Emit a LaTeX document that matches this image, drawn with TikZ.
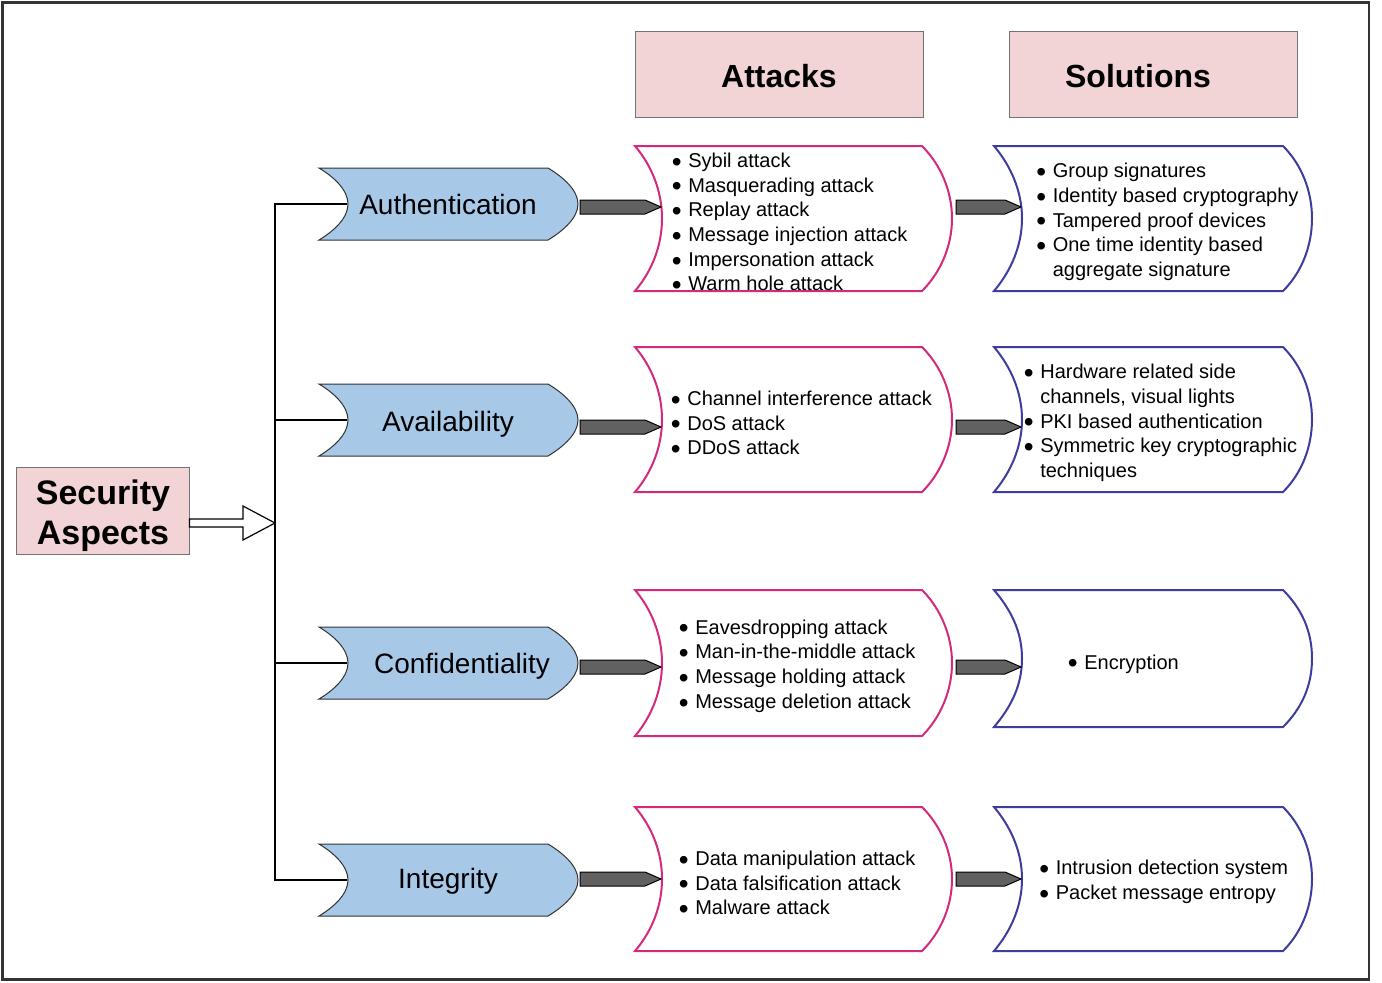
\documentclass[tikz,border=0pt]{standalone}
\usepackage{fontspec}
\setmainfont{Liberation Sans}
\usetikzlibrary{calc}
\definecolor{boxpink}{HTML}{F2D3D6}
\definecolor{tagblue}{HTML}{A8C8E8}
\definecolor{atkpink}{HTML}{D42A7C}
\definecolor{solblue}{HTML}{3D3D9E}
\definecolor{framegray}{HTML}{333333}
\newcommand{\bl}{\smash{\raisebox{-1.9pt}{\fontsize{14}{14}\selectfont\textbullet}}\hspace{3.3pt}}
\newcommand{\nb}{\hphantom{\bl}}

\begin{document}
\begin{tikzpicture}[x=0.5pt,y=-0.5pt,
  aspecttag/.style={fill=tagblue,draw=black!80,line width=0.5pt},
  atkbox/.style={draw=atkpink,line width=1pt,fill=white},
  solbox/.style={draw=solblue,line width=1pt,fill=white},
  headbox/.style={draw=black!55,fill=boxpink,line width=0.5pt,inner sep=0pt},
  headtext/.style={font=\fontsize{16}{19}\selectfont\bfseries},
  tagtext/.style={anchor=base,font=\fontsize{14}{16}\selectfont},
  itemlist/.style={anchor=west,inner sep=0pt,align=left,
    font=\fontsize{10}{12.35}\selectfont},
  branch/.style={draw=black,line width=1pt},
  pencilarrow/.style={draw=black,fill=black!62,line width=0.5pt,
    to path={($(\tikztostart)+(0,-7)$) -- ($(\tikztotarget)+(-16,-7)$) -- (\tikztotarget)
      -- ($(\tikztotarget)+(-16,7)$) -- ($(\tikztostart)+(0,7)$) -- cycle}},
  hollowarrow/.style={draw=black,fill=white,line width=0.6pt,
    to path={($(\tikztostart)+(0,-4)$) -- ($(\tikztotarget)+(-32,-4)$) -- ($(\tikztotarget)+(-32,-17)$)
      -- (\tikztotarget) -- ($(\tikztotarget)+(-32,17)$) -- ($(\tikztotarget)+(-32,4)$)
      -- ($(\tikztostart)+(0,4)$) -- cycle}}]

\useasboundingbox (0,0) rectangle (1382,982);
\draw[line width=1.2pt,draw=framegray] (2.5,2.5) rectangle (1369,979.5);

% headers
\node[headbox,minimum width=144pt,minimum height=43pt] (atkhead) at (779,74) {};
\node[headbox,minimum width=144pt,minimum height=43pt] (solhead) at (1153,74) {};
\node[headtext] (atktitle) at (779,76) {Attacks};
\node[headtext] (soltitle) at (1138,76) {Solutions};

% one row per security aspect
\foreach \nm/\ty/\ay/\ac/\ah/\sy/\sh in {auth/204/207/218.5/72.5/218.5/72.5,
    avail/420/427/419.5/72.5/419.5/72.5, conf/663/667/663/73/658.5/68.5,
    integ/880/879/879/72/879/72}{
  \filldraw[aspecttag] (319,\ty-36) -- (548,\ty-36) .. controls (563,\ty-27) and (578,\ty-14) .. (578,\ty)
    .. controls (578,\ty+14) and (563,\ty+27) .. (548,\ty+36) -- (319,\ty+36)
    .. controls (334,\ty+27) and (348,\ty+14) .. (348,\ty) .. controls (348,\ty-14) and (334,\ty-27) .. cycle;
  \draw[atkbox] (635,\ac-\ah) -- (922,\ac-\ah) .. controls (941,\ac-\ah+19) and (952,\ac-27) .. (952,\ac)
    .. controls (952,\ac+27) and (941,\ac+\ah-19) .. (922,\ac+\ah) -- (635,\ac+\ah)
    .. controls (652,\ac+\ah-20) and (662,\ac+27) .. (662,\ac) .. controls (662,\ac-27) and (652,\ac-\ah+20) .. cycle;
  \draw[solbox] (994,\sy-\sh) -- (1283,\sy-\sh) .. controls (1302,\sy-\sh+19) and (1312,\sy-27) .. (1312,\sy)
    .. controls (1312,\sy+27) and (1302,\sy+\sh-19) .. (1283,\sy+\sh) -- (994,\sy+\sh)
    .. controls (1011,\sy+\sh-20) and (1022,\sy+27) .. (1022,\sy) .. controls (1022,\sy-27) and (1011,\sy-\sh+20) .. cycle;
  \coordinate (\nm-w) at (347,\ty);
  \coordinate (\nm-e) at (580,\ay);
  \coordinate (\nm-atk) at (661,\ay);
  \coordinate (\nm-out) at (956,\ay);
  \coordinate (\nm-sol) at (1021,\ay);
  \draw[pencilarrow] (\nm-e) to (\nm-atk);
  \draw[pencilarrow] (\nm-out) to (\nm-sol);
}

\node[tagtext] (auth) at (448,214) {Authentication};
\node[tagtext] (avail) at (448,431) {Availability};
\node[tagtext] (conf) at (462,673) {Confidentiality};
\node[tagtext] (integ) at (448,888) {Integrity};

% root and branches
\node[draw=black!55,fill=boxpink,line width=0.5pt,minimum width=86.5pt,minimum height=43.5pt]
  (sec) at (102.5,510.5) {};
\node[align=center,font=\fontsize{17}{20}\selectfont\bfseries] (sectext) at (103,516) {Security\\Aspects};
\coordinate (bus) at (275,523);
\draw[hollowarrow] (sec.east |- bus) to (bus);
\draw[branch] (auth-w) -| (bus) |- (integ-w);
\draw[branch] (avail-w) -- (avail-w -| bus);
\draw[branch] (conf-w) -- (conf-w -| bus);

% attacks
\node[itemlist] (authatk) at (671.5,222) {\bl Sybil attack\\ \bl Masquerading attack\\ \bl Replay attack\\
  \bl Message injection attack\\ \bl Impersonation attack\\ \bl Warm hole attack};
\node[itemlist] (availatk) at (670.5,423) {\bl Channel interference attack\\ \bl DoS attack\\ \bl DDoS attack};
\node[itemlist] (confatk) at (678.5,666) {\bl Eavesdropping attack\\ \bl Man-in-the-middle attack\\
  \bl Message holding attack\\ \bl Message deletion attack};
\node[itemlist] (integatk) at (678.5,883) {\bl Data manipulation attack\\ \bl Data falsification attack\\
  \bl Malware attack};

% solutions
\node[itemlist] (authsol) at (1036,222) {\bl Group signatures\\ \bl Identity based cryptography\\
  \bl Tampered proof devices\\ \bl One time identity based\\ \nb aggregate signature};
\node[itemlist] (availsol) at (1023.5,423) {\bl Hardware related side\\ \nb channels, visual lights\\
  \bl PKI based authentication\\ \bl Symmetric key cryptographic\\ \nb techniques};
\node[itemlist] (confsol) at (1067.5,664) {\bl Encryption};
\node[itemlist] (integsol) at (1039,882) {\bl Intrusion detection system\\ \bl Packet message entropy};
\end{tikzpicture}
\end{document}
